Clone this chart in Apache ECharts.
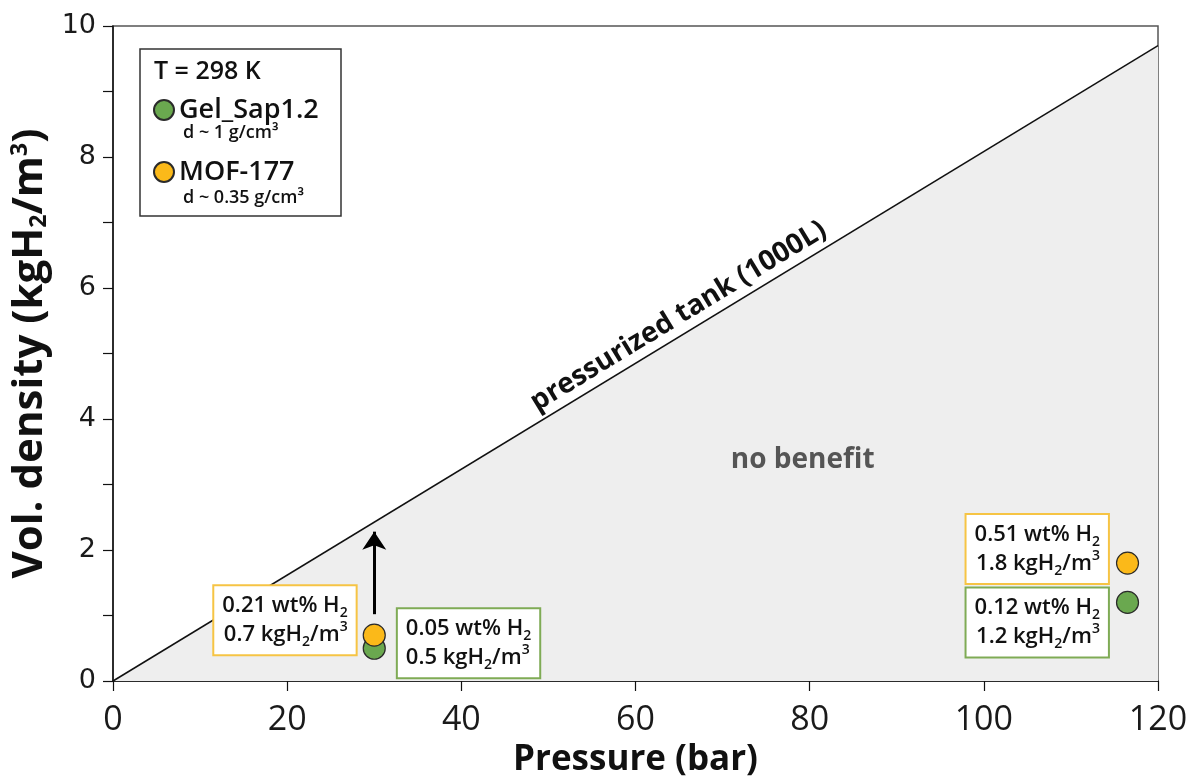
<!DOCTYPE html>
<html>
<head>
<meta charset="utf-8">
<script src="https://cdn.jsdelivr.net/npm/echarts@6/dist/echarts.min.js"></script>
<style>
  html, body { margin: 0; padding: 0; background: #ffffff; }
  #chart { width: 1204px; height: 778px; }
</style>
</head>
<body>
<div id="chart"></div>
<script>
// Volumetric hydrogen density vs. pressure at 298 K

// Compressed-gas reference line (1000 L tank), [bar, kgH2/m3]
const tankLine = [[0, 0], [120, 9.7]];

// Sorbent materials, [bar, kgH2/m3]
const gelSapPoints = [[30, 0.5], [116.5, 1.2]];
const mofPoints = [[30, 0.7], [116.5, 1.8]];

// Gravimetric uptake shown next to each point (wt% H2)
const gelSapWt = ['0.05', '0.12'];
const mofWt = ['0.21', '0.51'];

// Vertical arrow from the MOF-177 point up to the tank line
const arrowPath = [[30, 1.02], [30, 2.28]];

// Text placed in data space
const tankLabelAt = 66;          // bar, along the tank line
const noBenefitAt = [79.2, 3.37];

const seriesNames = ['Gel_Sap1.2', 'MOF-177'];
const densityNotes = ['d ~ 1 g/cm³', 'd ~ 0.35 g/cm³'];

const SANS = '"Open Sans", "Noto Sans", sans-serif';
const GREEN = '#6aa84f';
const ORANGE = '#fbb919';

const richText = {
  t:   { fontFamily: SANS, fontSize: 22, fontWeight: 600, color: '#111', lineHeight: 29 },
  sub: { fontFamily: SANS, fontSize: 14, fontWeight: 600, color: '#111', lineHeight: 18, verticalAlign: 'bottom' },
  sup: { fontFamily: SANS, fontSize: 14, fontWeight: 600, color: '#111', lineHeight: 14, verticalAlign: 'top' }
};

function pointLabel(wt, borderColor, position, distance, offset) {
  return {
    show: true,
    position: position,
    distance: distance,
    offset: offset,
    backgroundColor: '#ffffff',
    borderColor: borderColor,
    borderWidth: 2,
    padding: [5, 8, 5, 8],
    rich: richText,
    formatter: function (p) {
      return '{t|' + wt + ' wt% H}{sub|2}\n{t|' + p.value[1].toFixed(1) + ' kgH}{sub|2}{t|/m}{sup|3}';
    }
  };
}

const gelSapData = gelSapPoints.map(function (v, i) {
  const cfg = i === 0
    ? pointLabel(gelSapWt[i], '#7fab55', 'right', 12, [0, -5])
    : pointLabel(gelSapWt[i], '#7fab55', 'left', 8, [0, 20]);
  return { value: v, label: cfg };
});

const mofData = mofPoints.map(function (v, i) {
  const cfg = i === 0
    ? pointLabel(mofWt[i], '#f6c444', 'left', 7, [0, -15])
    : pointLabel(mofWt[i], '#f6c444', 'left', 8, [0, -14]);
  return { value: v, label: cfg };
});

const axisColor = '#111';

const chart = echarts.init(document.getElementById('chart'));

chart.setOption({
  animation: false,
  backgroundColor: '#ffffff',
  grid: {
    left: 113, right: 46, top: 26, bottom: 97,
    show: true,
    borderColor: '#555',
    borderWidth: 1.5,
    backgroundColor: 'transparent',
    outerBoundsMode: 'none'
  },
  legend: {
    data: seriesNames,
    orient: 'vertical',
    left: 153,
    top: 96,
    padding: 0,
    z: 20,
    itemWidth: 20,
    itemHeight: 20,
    itemGap: 34,
    icon: 'circle',
    selectedMode: false,
    textStyle: { fontFamily: SANS, fontSize: 27, fontWeight: 600, color: '#111', lineHeight: 28 }
  },
  xAxis: {
    type: 'value',
    min: 0, max: 120, interval: 20,
    axisLine: { show: true, onZero: false, lineStyle: { color: axisColor, width: 1.5 } },
    axisTick: { show: true, length: 10, lineStyle: { color: axisColor, width: 1.2 } },
    axisLabel: { fontFamily: SANS, fontSize: 34, color: '#1a1a1a', margin: 22 },
    splitLine: { show: false },
    name: 'Pressure (bar)',
    nameLocation: 'middle',
    nameGap: 62,
    nameTextStyle: { fontFamily: SANS, fontSize: 35, fontWeight: 'bold', color: '#111' }
  },
  yAxis: {
    type: 'value',
    min: 0, max: 10, interval: 2,
    axisLine: { show: true, onZero: false, lineStyle: { color: axisColor, width: 1.5 } },
    axisTick: { show: true, length: 10, lineStyle: { color: axisColor, width: 1.2 } },
    minorTick: { show: true, splitNumber: 2, length: 10, lineStyle: { color: axisColor, width: 1.2 } },
    minorSplitLine: { show: false },
    axisLabel: { fontFamily: '"DejaVu Sans", sans-serif', fontSize: 27, color: '#1a1a1a', margin: 17 },
    splitLine: { show: false },
    name: 'Vol. density (kgH{sub|2}/m{sup|3})',
    nameLocation: 'middle',
    nameGap: 60,
    nameTextStyle: {
      fontFamily: SANS, fontSize: 42, fontWeight: 'bold', color: '#111',
      rich: {
        sub: { fontFamily: SANS, fontSize: 23, fontWeight: 'bold', color: '#111', lineHeight: 36, verticalAlign: 'bottom' },
        sup: { fontFamily: SANS, fontSize: 23, fontWeight: 'bold', color: '#111', lineHeight: 23, verticalAlign: 'top' }
      }
    }
  },
  series: [
    {
      name: 'pressurized tank (1000L)',
      type: 'line',
      data: tankLine,
      symbol: 'none',
      silent: true,
      z: 1,
      lineStyle: { color: '#111', width: 1.5 },
      areaStyle: { color: '#eeeeee', opacity: 1 },
      markLine: {
        silent: true,
        symbol: ['none', 'arrow'],
        symbolSize: 18,
        lineStyle: { color: '#000', width: 3, type: 'solid' },
        label: { show: false },
        emphasis: { disabled: true },
        data: [[{ coord: arrowPath[0] }, { coord: arrowPath[1] }]]
      }
    },
    {
      name: seriesNames[0],
      type: 'scatter',
      data: gelSapData,
      symbolSize: 22,
      z: 4,
      itemStyle: { color: GREEN, borderColor: '#2a2a2a', borderWidth: 1.2, opacity: 1 }
    },
    {
      name: seriesNames[1],
      type: 'scatter',
      data: mofData,
      symbolSize: 22,
      z: 5,
      itemStyle: { color: ORANGE, borderColor: '#2a2a2a', borderWidth: 1.2, opacity: 1 }
    }
  ]
});

// Text that follows the tank line and the shaded region label
const toPx = function (v) { return chart.convertToPixel({ xAxisIndex: 0, yAxisIndex: 0 }, v); };
const p0 = toPx(tankLine[0]);
const p1 = toPx(tankLine[1]);
const angle = Math.atan2(p0[1] - p1[1], p1[0] - p0[0]);
const slope = (tankLine[1][1] - tankLine[0][1]) / (tankLine[1][0] - tankLine[0][0]);
const pm = toPx([tankLabelAt, tankLabelAt * slope]);
const gap = 4;
const anchor = [pm[0] - Math.sin(angle) * gap, pm[1] - Math.cos(angle) * gap];
const nb = toPx(noBenefitAt);

chart.setOption({
  graphic: [
    {
      type: 'text',
      x: anchor[0], y: anchor[1],
      rotation: angle,
      silent: true,
      z: 10,
      style: {
        text: 'pressurized tank (1000L)',
        fontFamily: SANS, fontSize: 28, fontWeight: 'bold',
        fill: '#111', align: 'center', verticalAlign: 'bottom'
      }
    },
    {
      type: 'text',
      x: nb[0], y: nb[1],
      silent: true,
      z: 10,
      style: {
        text: 'no benefit',
        fontFamily: SANS, fontSize: 28, fontWeight: 'bold',
        fill: '#555', align: 'center', verticalAlign: 'middle'
      }
    },
    {
      type: 'rect',
      shape: { x: 140, y: 49, width: 201, height: 167 },
      silent: true,
      z: 1,
      style: { fill: '#ffffff', stroke: '#333', lineWidth: 1.5 }
    },
    {
      type: 'text',
      x: 154, y: 72,
      silent: true,
      z: 9,
      style: {
        text: 'T = 298 K',
        fontFamily: SANS, fontSize: 25, fontWeight: 600,
        fill: '#111', align: 'left', verticalAlign: 'middle'
      }
    },
    {
      type: 'text',
      x: 183, y: 133,
      silent: true,
      z: 9,
      style: {
        text: densityNotes[0],
        fontFamily: SANS, fontSize: 18, fontWeight: 600,
        fill: '#111', align: 'left', verticalAlign: 'middle'
      }
    },
    {
      type: 'text',
      x: 183, y: 198,
      silent: true,
      z: 9,
      style: {
        text: densityNotes[1],
        fontFamily: SANS, fontSize: 18, fontWeight: 600,
        fill: '#111', align: 'left', verticalAlign: 'middle'
      }
    }
  ]
});
</script>
</body>
</html>
